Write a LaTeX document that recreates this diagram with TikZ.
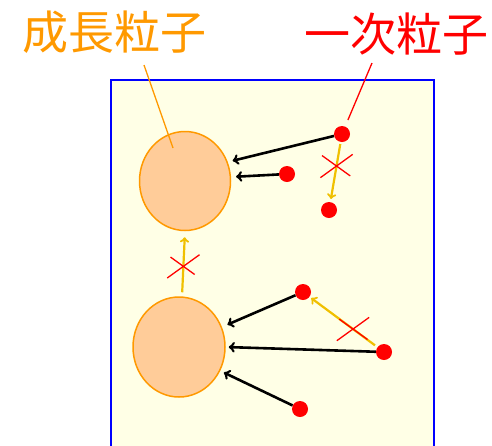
\documentclass[tikz,border=0pt]{standalone}
\usepackage{fontspec}
\newfontfamily\jpfont{Noto Sans CJK JP}
\usetikzlibrary{shapes.geometric,shapes.misc}
\definecolor{groworange}{RGB}{255,153,0}
\definecolor{peach}{RGB}{255,204,153}
\definecolor{dotred}{RGB}{255,0,0}
\definecolor{gold}{RGB}{240,192,0}
\definecolor{paper}{RGB}{255,255,230}

\begin{document}
\begin{tikzpicture}[x=1pt, y=-1pt,
    grain/.style={ellipse, draw=groworange, fill=peach, line width=1.5pt,
      minimum width=91pt, minimum height=99pt, inner sep=0pt},
    seed/.style={circle, fill=dotred, minimum size=16pt, inner sep=0pt},
    joins/.style={->, line width=2.6pt},
    blocked/.style={->, gold, line width=2.2pt},
    nope/.style={cross out, draw=dotred, line width=1.3pt,
      minimum width=31pt, minimum height=22pt, inner sep=0pt},
    tag/.style={font=\jpfont\fontsize{46}{50}\selectfont, inner sep=0pt}]
  \useasboundingbox (0,0) rectangle (492,445);
  \clip (0,0) rectangle (492,445);

  % Box
  \fill[paper] (111,80) rectangle (434,450);
  \draw[blue, line width=1.5pt] (111,450) -- (111,80) -- (434,80) -- (434,450);

  % Growth particles
  \node[grain] (g1) at (185,181) {};
  \node[grain, minimum width=92pt, minimum height=100pt] (g2) at (179,347) {};

  % Primary particles
  \node[seed] (p1) at (342,134) {};
  \node[seed] (p2) at (287,174) {};
  \node[seed] (p3) at (329,210) {};
  \node[seed] (p4) at (303,292) {};
  \node[seed] (p5) at (384,352) {};
  \node[seed] (p6) at (300,409) {};

  % Primary -> growth
  \draw[joins, shorten >=5pt] (p1) -- (g1.24);
  \draw[joins, shorten >=5pt] (p2) -- (g1.5);
  \draw[joins, shorten >=6pt] (p4) -- (g2.25);
  \draw[joins, shorten >=3pt] (p5) -- (g2.0);
  \draw[joins, shorten >=4pt] (p6) -- (g2.-30);

  % Not happening
  \draw[blocked, shorten <=2pt, shorten >=3pt] (p1) -- (p3) node[nope, pos=0.4] {};
  \draw[blocked, shorten <=4pt, shorten >=6pt] ([xshift=3pt]g2.north) -- (g1.south)
    node[nope, pos=0.46] {};
  \draw[blocked, shorten <=3pt, shorten >=2pt] (p5) -- (p4) node[nope, pos=0.36] {};

  % Labels
  \node[tag, groworange] (lblG) at (114,32) {成長粒子};
  \node[tag, dotred] (lblP) at (396,34) {一次粒子};
  \coordinate (tailG) at (144,65);
  \coordinate (tipG) at (173,148);
  \draw[groworange, line width=1.3pt] (tailG) -- (tipG);
  \coordinate (tailP) at (372,63);
  \draw[dotred, line width=1.3pt, shorten >=7pt] (tailP) -- (p1);
\end{tikzpicture}
\end{document}
